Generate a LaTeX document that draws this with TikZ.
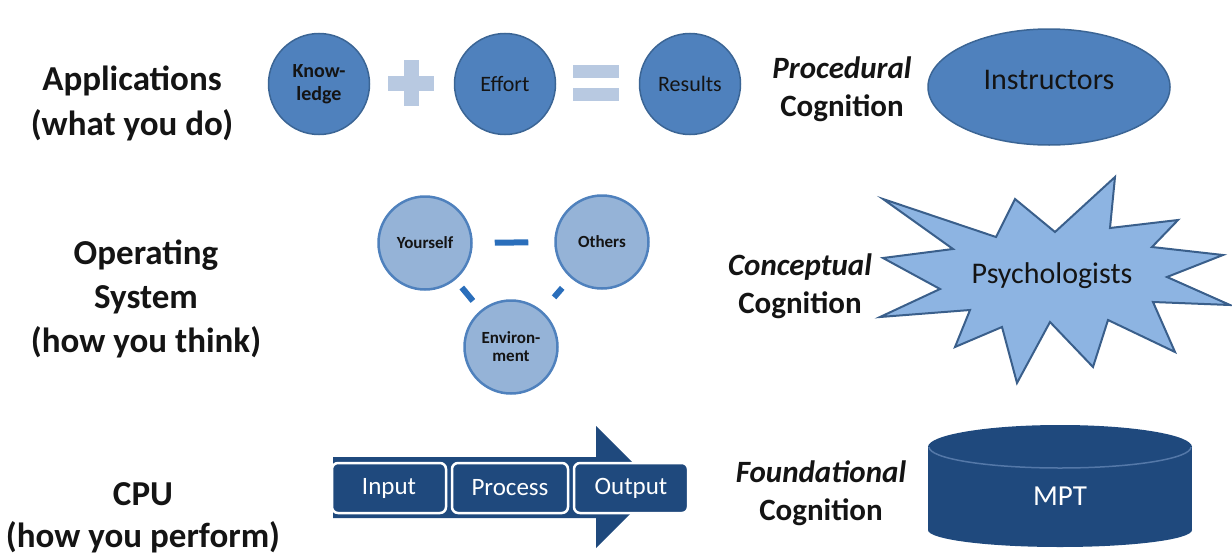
\documentclass[tikz,border=0pt]{standalone}
\usepackage{fontspec}
\setmainfont{Carlito}
\usetikzlibrary{shapes.geometric}
\definecolor{midblue}{HTML}{4F81BD}
\definecolor{midblueedge}{HTML}{3B6595}
\definecolor{lightblue}{HTML}{95B3D7}
\definecolor{opcol}{HTML}{B8C9E1}
\definecolor{dashblue}{HTML}{2A6EBB}
\definecolor{starfill}{HTML}{8DB4E2}
\definecolor{staredge}{HTML}{3A5F8B}
\definecolor{darkblue}{HTML}{1F497D}
\definecolor{seam}{HTML}{5478A8}
\definecolor{ink}{HTML}{141414}
\begin{document}
\begin{tikzpicture}[x=1pt,y=-1pt,
  lbl/.style={font=\bfseries\fontsize{35}{45}\selectfont, align=center, inner sep=0, anchor=base, text=ink},
  cog/.style={font=\bfseries\fontsize{31}{38}\selectfont, align=center, inner sep=0, anchor=base, text=ink},
  topcirc/.style={circle, fill=midblue, draw=midblueedge, line width=1.5pt, minimum size=101pt, inner sep=0, align=center, text=ink},
  midcirc/.style={circle, fill=lightblue, draw=midblue, line width=2.5pt, minimum size=93pt, inner sep=0, align=center, text=ink, font=\bfseries\fontsize{17}{18}\selectfont},
  dashcon/.style={draw=dashblue, line width=6pt},
  iobox/.style={rectangle, rounded corners=6pt, fill=darkblue, draw=white, line width=2.5pt, text=white, font=\fontsize{25}{30}\selectfont, minimum height=50pt, inner sep=0},
  bigtext/.style={font=\fontsize{30}{36}\selectfont, inner sep=0}
]
\useasboundingbox (0,0) rectangle (1232,554);

% left labels (anchor = baseline of last line)
\node[lbl] (app) at (132,135) {Applications\\(what you do)};
\node[lbl, font=\bfseries\fontsize{35}{44}\selectfont] (os) at (146,352) {Operating\\System\\(how you think)};
\node[lbl, font=\bfseries\fontsize{35}{42}\selectfont] (cpu) at (143,547) {CPU\\(how you perform)};

% top row
\node[topcirc, font=\bfseries\fontsize{20}{23}\selectfont] (know) at (319,84) {Know-\\ledge};
\node[topcirc, font=\fontsize{22}{26}\selectfont] (effort) at (505,84) {Effort};
\node[topcirc, font=\fontsize{22}{26}\selectfont] (results) at (690,84) {Results};
\fill[opcol] (404,60) rectangle (419,106);
\fill[opcol] (388,76) rectangle (434,91);
\fill[opcol] (573,65) rectangle (619,78);
\fill[opcol] (573,88) rectangle (619,101);

% middle row
\node[midcirc] (you) at (425,243) {Yourself};
\node[midcirc] (oth) at (602,242) {Others};
\node[midcirc] (env) at (511,347) {Environ-\\ment};
\draw[dashcon, shorten <=22pt, shorten >=26pt] (you) -- (oth);
\draw[dashcon, shorten <=10pt, shorten >=12pt] (you) -- (env);
\draw[dashcon, shorten <=13pt, shorten >=18pt] (oth) -- (env);

% bottom row arrow
\fill[darkblue] (333,457) -- (596,457) -- (596,426) -- (657,487) -- (596,548) -- (596,518) -- (333,518) -- cycle;
\node[iobox, minimum width=114pt] (in) at (389,488) {Input};
\node[iobox, minimum width=116pt] (proc) at (510,488) {Process};
\node[iobox, minimum width=114pt] (out) at (631,488) {Output};

% right labels (anchor = baseline of last line)
\node[cog] (proc1) at (842,116) {\itshape Procedural\\Cognition};
\node[cog] (conc1) at (800,313) {\itshape Conceptual\\Cognition};
\node[cog] (found1) at (821,520) {\itshape Foundational\\Cognition};

% instructors ellipse
\node[ellipse, fill=midblue, draw=midblueedge, line width=1.5pt, minimum width=242pt, minimum height=116pt, inner sep=0] (instr) at (1049,87) {};
\node[bigtext, text=ink] (instrtxt) at (1049,80) {Instructors};

% starburst
\draw[fill=starfill, draw=staredge, line width=2pt, line join=miter]
 (883,199) -- (996,237) -- (1015,199) -- (1055,232) -- (1115,177) -- (1110,228)
 -- (1178,220) -- (1152,247) -- (1223,255) -- (1167,277) -- (1230,305) -- (1153,302)
 -- (1175,352) -- (1108,320) -- (1093,367) -- (1050,322) -- (1017,383) -- (1002,327)
 -- (955,347) -- (970,310) -- (880,317) -- (940,289) -- (883,258) -- (953,249) -- cycle;
\node[bigtext, text=ink] (psy) at (1052,276) {Psychologists};

% cylinder
\fill[darkblue] (928,447) rectangle (1192,530);
\fill[darkblue] (1060,530) ellipse [x radius=132pt, y radius=17pt];
\fill[darkblue] (1060,447) ellipse [x radius=132pt, y radius=22pt];
\begin{scope}
  \clip (920,447) rectangle (1200,475);
  \draw[seam, line width=1.5pt] (1060,447) ellipse [x radius=131pt, y radius=21pt];
\end{scope}
\node[bigtext, text=white, font=\fontsize{29}{34}\selectfont] (mpt) at (1060,496) {MPT};
\end{tikzpicture}
\end{document}
